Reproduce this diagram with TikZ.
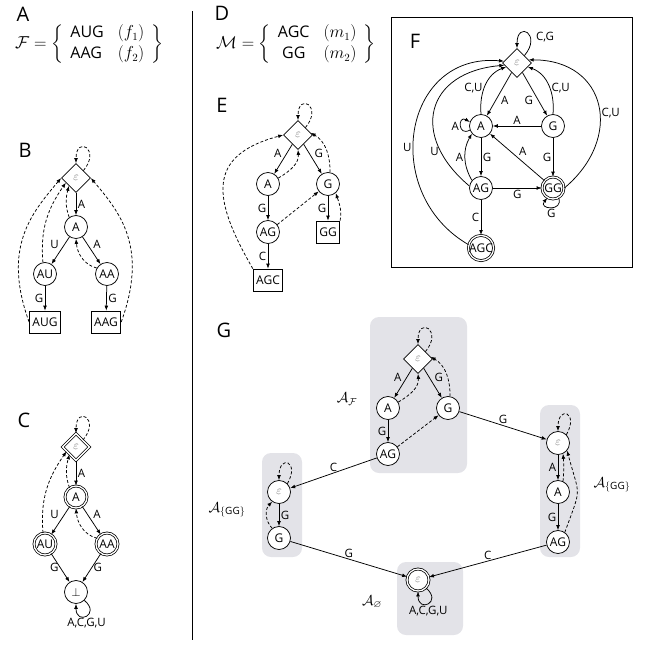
\documentclass[tikz,border=0pt]{standalone}
\usepackage{amsmath,amssymb}
\usepackage{fontspec}
\setsansfont{Open Sans}
\usetikzlibrary{arrows.meta,shapes.geometric}
\definecolor{boxgray}{RGB}{227,227,232}
\definecolor{epsgray}{RGB}{105,105,105}
\newcommand{\epsnode}{\textcolor{epsgray}{\fontsize{11.5}{11.5}\selectfont$\varepsilon$}}
\begin{document}
\begin{tikzpicture}[x=1pt,y=1pt,
  every node/.style={font=\sffamily\fontsize{11.5}{13}\selectfont},
  st/.style={circle, draw, line width=0.75pt, minimum size=23pt, inner sep=0pt, fill=white, font=\sffamily\fontsize{12}{13}\selectfont},
  fin/.style={st, double, double distance=1.3pt, minimum size=22pt},
  dia/.style={diamond, draw, line width=0.75pt, minimum width=29pt, minimum height=29pt, inner sep=0pt, fill=white},
  dfin/.style={dia, double, double distance=1.3pt, minimum width=27pt, minimum height=27pt},
  sq/.style={rectangle, draw, line width=0.75pt, minimum height=22pt, inner xsep=3pt, inner ysep=0pt, fill=white, font=\sffamily\fontsize{12}{13}\selectfont},
  tr/.style={-{Latex[length=5pt,width=3.8pt]}, line width=0.75pt},
  fl/.style={tr, dash pattern=on 3pt off 2pt},
  lab/.style={inner sep=1.5pt},
  plab/.style={font=\sffamily\fontsize{20}{24}\selectfont, inner sep=0pt},
  mlab/.style={font=\fontsize{14.4}{17}\selectfont, inner sep=0pt},
  flab/.style={font=\fontsize{16}{19}\selectfont, inner sep=0pt},
  gbox/.style={fill=boxgray, rounded corners=9pt}]
\path[use as bounding box] (0,0) rectangle (652,-646);

% divider
\draw[line width=0.8pt] (192,-11) -- (192,-640);

% ---------- A ----------
\node[plab] (la) at (23,-14) {A};
\node[flab, anchor=west] (fa) at (15,-44) {\renewcommand{\arraystretch}{1.1}\setlength{\arraycolsep}{7pt}$\mathcal{F}=\left\{\begin{array}{ll}\textsf{AUG} & (f_1)\\ \textsf{AAG} & (f_2)\end{array}\right\}$};

% ---------- D ----------
\node[plab] (ld) at (222,-13) {D};
\node[flab, anchor=west] (fd) at (216,-44) {\renewcommand{\arraystretch}{1.1}\setlength{\arraycolsep}{7pt}$\mathcal{M}=\left\{\begin{array}{cl}\textsf{AGC} & (m_1)\\ \textsf{GG} & (m_2)\end{array}\right\}$};

% ---------- B ----------
\node[plab] (lb) at (25,-150) {B};
\node[dia] (b0) at (76,-178) {\epsnode};
\node[st] (bA) at (76,-227) {A};
\node[st] (bAU) at (45,-274) {AU};
\node[st] (bAA) at (107,-274) {AA};
\node[sq] (bAUG) at (45,-322) {AUG};
\node[sq] (bAAG) at (106,-322) {AAG};
\draw[tr] (b0) -- node[lab,right] {A} (bA);
\draw[tr] (bA) -- node[lab,above left] {U} (bAU);
\draw[tr] (bA) -- node[lab,above right] {A} (bAA);
\draw[tr] (bAU) -- node[lab,left] {G} (bAUG);
\draw[tr] (bAA) -- node[lab,right] {G} (bAAG);
\draw[fl] (b0.north east) to[out=50,in=90,distance=28pt] (b0.north);
\draw[fl] (bA.125) to[out=110,in=255] (b0.228);
\draw[fl] (bAU.100) to[out=95,in=235] (b0.205);
\draw[fl] (bAA.150) to[out=165,in=-85] (bA.south);
\draw[fl] (bAUG.west) to[out=110,in=230,out distance=80pt,in distance=45pt] (b0.west);
\draw[fl] (bAAG.east) to[out=70,in=-50,out distance=80pt,in distance=45pt] (b0.east);

% ---------- C ----------
\node[plab] (lc) at (24,-420) {C};
\node[dfin] (c0) at (76,-447) {\epsnode};
\node[fin] (cA) at (76,-497) {A};
\node[fin] (cAU) at (45,-544) {AU};
\node[fin] (cAA) at (107,-544) {AA};
\node[st] (cB) at (76,-592) {$\bot$};
\draw[tr] (c0) -- node[lab,right] {A} (cA);
\draw[tr] (cA) -- node[lab,above left] {U} (cAU);
\draw[tr] (cA) -- node[lab,above right] {A} (cAA);
\draw[tr] (cAU) -- node[lab,left] {G} (cB);
\draw[tr] (cAA) -- node[lab,right] {G} (cB);
\draw[fl] (c0.north east) to[out=50,in=90,distance=28pt] (c0.north);
\draw[fl] (cA.125) to[out=110,in=255] (c0.228);
\draw[fl] (cAU.100) to[out=95,in=235] (c0.205);
\draw[fl] (cAA.150) to[out=165,in=-85] (cA.south);
\draw[tr] (cB.-45) to[out=-40,in=-90,distance=22pt] node[lab,below,inner sep=2.5pt] {A,C,G,U} (cB.south);

% ---------- E ----------
\node[plab] (le) at (222,-105) {E};
\node[dia] (e0) at (298,-135) {\epsnode};
\node[st] (eA) at (268,-184) {A};
\node[st] (eG) at (328,-184) {G};
\node[st] (eAG) at (268,-232) {AG};
\node[sq] (eGG) at (328,-232) {GG};
\node[sq] (eAGC) at (268,-280) {AGC};
\draw[tr] (e0) -- node[lab,above left] {A} (eA);
\draw[tr] (e0) -- node[lab,above right] {G} (eG);
\draw[tr] (eA) -- node[lab,left] {G} (eAG);
\draw[tr] (eG) -- node[lab,left] {G} (eGG);
\draw[tr] (eAG) -- node[lab,left] {C} (eAGC);
\draw[fl] (e0.north east) to[out=50,in=90,distance=28pt] (e0.north);
\draw[fl] (eA.30) to[out=30,in=-85] (e0.south);
\draw[fl] (eG.80) to[out=90,in=-30] (e0.10);
\draw[fl] (eAG) -- (eG);
\draw[fl] (eGG.north east) to[out=80,in=-70] (eG.-50);
\draw[fl] (eAGC.north west) to[out=120,in=195,looseness=1.5] (e0.west);

% ---------- F ----------
\draw[line width=0.8pt] (391,-17) rectangle (632,-267);
\node[plab] (lf) at (415,-41) {F};
\node[dia] (f0) at (517,-63) {\epsnode};
\node[st] (fA) at (481,-126) {A};
\node[st] (fG) at (553,-126) {G};
\node[st] (fAG) at (481,-188) {AG};
\node[fin] (fGG) at (553,-188) {GG};
\node[fin] (fAGC) at (481,-248) {AGC};
\draw[tr] (f0.north east) to[out=50,in=90,distance=28pt] node[lab,right,pos=0.35,xshift=4pt] {C,G} (f0.north);
\draw[tr] (f0) -- node[lab,below right] {A} (fA);
\draw[tr] (f0) -- node[lab,below left] {G} (fG);
\draw[tr] (fA.north) to[out=95,in=200] node[lab,left,pos=0.45] {C,U} (f0.200);
\draw[tr] (fG.north) to[out=85,in=-20] node[lab,right,pos=0.45] {C,U} (f0.-20);
\draw[tr] (fG) -- node[lab,above] {A} (fA);
\draw[tr] (fA.200) to[out=210,in=150,distance=14pt] node[lab,left] {A} (fA.160);
\draw[tr] (fA) -- node[lab,right] {G} (fAG);
\draw[tr] (fAG.140) to[bend left=30] node[lab,left] {A} (fA.220);
\draw[tr] (fG) -- node[lab,left] {G} (fGG);
\draw[tr] (fGG) -- node[lab,above right] {A} (fA);
\draw[tr] (fAG) -- node[lab,below] {G} (fGG);
\draw[tr] (fGG.300) to[out=-70,in=-130,distance=15pt] node[lab,below] {G} (fGG.240);
\draw[tr] (fAG) -- node[lab,left] {C} (fAGC);
\draw[tr] (fGG.east) to[out=40,in=0,looseness=1.5] node[lab,right,pos=0.45] {C,U} (f0.15);
\draw[tr] (fAG.170) to[out=140,in=185,looseness=1.6] node[lab,left,pos=0.22] {U} (f0.190);
\draw[tr] (fAGC.165) to[out=150,in=175,looseness=1.4] node[lab,left,pos=0.43] {U} (f0.172);

% ---------- G ----------
\node[plab] (lg) at (224,-330) {G};
\fill[gbox] (370,-317) rectangle (467,-473);
\fill[gbox] (540,-405) rectangle (580,-557);
\fill[gbox] (262,-453) rectangle (302,-557);
\fill[gbox] (397,-562) rectangle (463,-635);

\node[dia] (g0) at (418,-359) {\epsnode};
\node[st] (gA) at (388,-408) {A};
\node[st] (gG) at (448,-408) {G};
\node[st] (gAG) at (388,-454) {AG};
\node[st] (r0) at (558,-443) {\epsnode};
\node[st] (rA) at (558,-492) {A};
\node[st] (rAG) at (558,-542) {AG};
\node[st] (l0) at (279,-492) {\epsnode};
\node[st] (lG) at (279,-538) {G};
\node[fin] (z0) at (418,-580) {\epsnode};

\node[mlab] (nF) at (347,-399) {$\mathcal{A}_{\mathcal{F}}$};
\node[mlab] (nR) at (612,-485) {$\mathcal{A}_{\{\textsf{GG}\}}$};
\node[mlab] (nL) at (227,-510) {$\mathcal{A}_{\{\textsf{GG}\}}$};
\node[mlab] (nZ) at (372,-602) {$\mathcal{A}_{\varnothing}$};

\draw[tr] (g0) -- node[lab,above left] {A} (gA);
\draw[tr] (g0) -- node[lab,above right] {G} (gG);
\draw[tr] (gA) -- node[lab,left] {G} (gAG);
\draw[fl] (g0.north east) to[out=50,in=90,distance=28pt] (g0.north);
\draw[fl] (gA.30) to[out=30,in=-85] (g0.south);
\draw[fl] (gG.80) to[out=90,in=-30] (g0.10);
\draw[fl] (gAG) -- (gG);

\draw[tr] (r0) -- node[lab,left] {A} (rA);
\draw[tr] (rA) -- node[lab,left] {G} (rAG);
\draw[fl] (r0.45) to[out=60,in=90,distance=26pt] (r0.north);
\draw[fl] (rA.65) to[out=85,in=-85] (r0.-65);
\draw[fl] (rAG.55) to[out=70,in=-75,distance=50pt] (r0.-40);

\draw[tr] (l0) -- node[lab,right] {G} (lG);
\draw[fl] (l0.45) to[out=60,in=90,distance=26pt] (l0.north);
\draw[fl] (lG.125) to[out=135,in=-135] (l0.235);

\draw[tr] (gAG) -- node[lab,above] {C} (l0);
\draw[tr] (gG) -- node[lab,above] {G} (r0);
\draw[tr] (lG) -- node[lab,above] {G} (z0);
\draw[tr] (rAG) -- node[lab,above] {C} (z0);
\draw[tr] (z0.-45) to[out=-40,in=-90,distance=22pt] node[lab,below,inner sep=2.5pt] {A,C,G,U} (z0.south);
\end{tikzpicture}
\end{document}
